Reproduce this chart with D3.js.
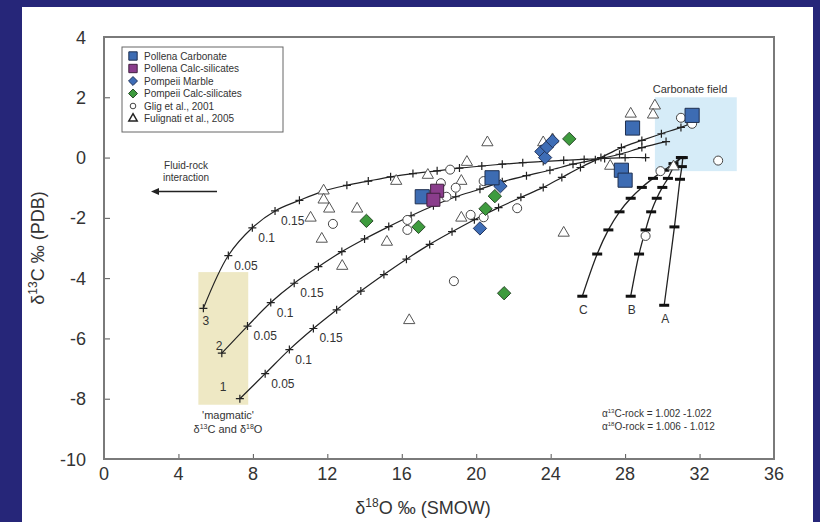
<!DOCTYPE html>
<html lang="en">
<head>
<meta charset="utf-8"/>
<script src="https://d3js.org/d3.v7.min.js"></script>
<style>
  body { margin: 0; background: #262679; }
  svg text { font-family: "Liberation Sans", Arial, sans-serif; }
  .small { font-family: "Liberation Sans Narrow", "Liberation Sans", Arial, sans-serif; fill: #333; }
</style>
</head>
<body>
<div id="chart"></div>
<script>
// axis ticks
var xTicks = [0, 4, 8, 12, 16, 20, 24, 28, 32, 36];
var yTicks = [4, 2, 0, -2, -4, -6, -8, -10];

// mixing curves 1-3 (d18O, d13C), tick marks at each vertex
var curve1 = [[7.3,-8.0],[8.66,-7.17],[9.96,-6.37],[11.25,-5.67],[12.5,-5.05],[13.8,-4.43],[15.04,-3.88],[16.25,-3.37],[17.5,-2.88],[18.7,-2.46],[19.9,-2.06],[21.2,-1.66],[22.4,-1.32],[23.6,-0.99],[24.6,-0.66],[25.6,-0.33],[26.7,0],[27.8,0.33],[28.9,0.57],[29.95,0.79],[31.0,1.0],[31.5,1.12]];
var curve2 = [[6.33,-6.49],[7.71,-5.59],[8.96,-4.81],[10.22,-4.17],[11.52,-3.62],[12.78,-3.12],[14.0,-2.7],[15.3,-2.29],[16.5,-1.93],[17.7,-1.6],[18.9,-1.3],[20.2,-1.05],[21.4,-0.8],[22.7,-0.6],[23.96,-0.42],[25.2,-0.22],[26.4,-0.07],[27.7,0.11],[28.9,0.33],[30.2,0.53]];
var curve3 = [[5.34,-5.0],[6.68,-3.25],[7.97,-2.33],[9.19,-1.77],[10.5,-1.42],[11.76,-1.12],[13.05,-0.92],[14.2,-0.78],[15.4,-0.64],[16.6,-0.53],[17.9,-0.44],[19.1,-0.35],[20.3,-0.28],[21.4,-0.22],[22.5,-0.17],[23.6,-0.13],[24.7,-0.09],[25.8,-0.06],[26.9,-0.03],[28.0,0],[29.1,0]];
var fracLabels = ["0.05", "0.1", "0.15"];

// curves A, B, C
var curveA = [[30.1,-4.9],[30.65,-2.3],[30.95,-0.72],[31.05,-0.3],[31.1,0]];
var curveB = [[28.3,-4.6],[28.75,-3.2],[29.1,-2.4],[29.4,-1.8],[29.7,-1.35],[30.0,-0.99],[30.3,-0.69],[30.6,-0.32],[31.0,0]];
var curveC = [[25.7,-4.6],[26.5,-3.2],[27.1,-2.4],[27.7,-1.8],[28.3,-1.35],[28.9,-0.99],[29.5,-0.69],[30.1,-0.42],[30.6,-0.2],[31.0,0]];

// samples
var pollenaCarb = [[17.1,-1.3],[20.85,-0.67],[28.4,0.98],[27.8,-0.42],[28.0,-0.75],[31.6,1.4]];
var pollenaCalc = [[17.9,-1.1],[17.7,-1.4]];
var pompeiiMarble = [[23.5,0.2],[23.7,0.0],[23.8,0.35],[24.1,0.55],[21.3,-0.95],[20.2,-2.35]];
var pompeiiCalc = [[25.0,0.62],[21.0,-1.28],[20.5,-1.7],[16.9,-2.3],[14.1,-2.1],[21.5,-4.5]];
var glig = [[18.6,-0.4],[18.1,-0.85],[18.9,-1.0],[18.4,-1.3],[20.4,-0.78],[22.2,-1.68],[16.3,-2.07],[16.3,-2.4],[19.7,-1.9],[20.4,-1.98],[18.8,-4.1],[12.3,-2.2],[31.0,1.32],[31.6,1.12],[33.0,-0.1],[29.9,-0.45],[29.1,-2.6]];
var fulignati = [[11.8,-1.1],[11.8,-1.4],[12.1,-1.7],[11.1,-2.0],[11.7,-2.7],[13.6,-1.7],[12.8,-3.6],[15.2,-2.8],[15.7,-0.78],[17.4,-0.58],[19.2,-0.78],[19.5,-0.15],[20.6,0.5],[19.2,-2.0],[16.4,-5.4],[23.6,0.5],[24.1,0.6],[24.7,-2.5],[27.2,-0.28],[28.3,1.45],[29.6,1.72],[29.5,1.42],[30.6,-0.3]];

var legendNames = ["Pollena Carbonate", "Pollena Calc-silicates", "Pompeii Marble", "Pompeii Calc-silicates", "Glig et al., 2001", "Fulignati et al., 2005"];

var svg = d3.select("#chart").append("svg")
    .attr("width", 820).attr("height", 522);

// white panel
svg.append("rect").attr("x", 22).attr("y", 7).attr("width", 791).attr("height", 515).attr("fill", "#fff");

var x = d3.scaleLinear().domain([0, 36]).range([104, 774]);
var y = d3.scaleLinear().domain([-10, 4]).range([459, 37]);

// shaded fields
svg.append("rect")
    .attr("x", x(29.6)).attr("y", y(2.0))
    .attr("width", x(34) - x(29.6)).attr("height", y(-0.45) - y(2.0))
    .attr("fill", "#d6ecf8");
svg.append("rect")
    .attr("x", x(5.07)).attr("y", y(-3.8))
    .attr("width", x(7.75) - x(5.07)).attr("height", y(-8.2) - y(-3.8))
    .attr("fill", "#eee8c4");

// axes (ticks inside)
svg.append("g").attr("transform", "translate(0," + y(-10) + ")")
    .call(d3.axisBottom(x).tickValues(xTicks).tickSize(-5).tickFormat(""))
    .call(function (g) { g.select(".domain").remove(); g.selectAll("line").attr("stroke", "#555"); });
svg.append("g").attr("transform", "translate(" + x(0) + ",0)")
    .call(d3.axisLeft(y).tickValues(yTicks).tickSize(-6).tickFormat(""))
    .call(function (g) { g.select(".domain").remove(); g.selectAll("line").attr("stroke", "#555"); });

svg.append("rect")
    .attr("x", x(0)).attr("y", y(4))
    .attr("width", x(36) - x(0)).attr("height", y(-10) - y(4))
    .attr("fill", "none").attr("stroke", "#7a7a7a").attr("stroke-width", 2);

svg.selectAll(".xl").data(xTicks).enter().append("text")
    .attr("x", function (d) { return x(d); }).attr("y", 480)
    .attr("text-anchor", "middle").attr("font-size", 18).attr("fill", "#333")
    .text(function (d) { return d; });
svg.selectAll(".yl").data(yTicks).enter().append("text")
    .attr("x", 86).attr("y", function (d) { return y(d) + 6.5; })
    .attr("text-anchor", "end").attr("font-size", 18).attr("fill", "#333")
    .text(function (d) { return d; });

// axis titles
var xt = svg.append("text").attr("x", 423).attr("y", 514)
    .attr("text-anchor", "middle").attr("font-size", 18).attr("fill", "#333");
xt.append("tspan").text("δ");
xt.append("tspan").attr("font-size", 12).attr("dy", -7).text("18");
xt.append("tspan").attr("dy", 7).text("O ‰ (SMOW)");

var yt = svg.append("text").attr("transform", "translate(44,248) rotate(-90)")
    .attr("text-anchor", "middle").attr("font-size", 18).attr("fill", "#333");
yt.append("tspan").text("δ");
yt.append("tspan").attr("font-size", 12).attr("dy", -7).text("13");
yt.append("tspan").attr("dy", 7).text("C ‰ (PDB)");

// mixing curves
var line = d3.line().x(function (d) { return x(d[0]); }).y(function (d) { return y(d[1]); })
    .curve(d3.curveCatmullRom);

[curve1, curve2, curve3].forEach(function (c) {
    svg.append("path").datum(c).attr("d", line)
        .attr("fill", "none").attr("stroke", "#222").attr("stroke-width", 1.2);
    svg.selectAll(null).data(c).enter().append("path")
        .attr("transform", function (d) { return "translate(" + x(d[0]) + "," + y(d[1]) + ")"; })
        .attr("d", "M-4,0H4M0,-4V4")
        .attr("stroke", "#222").attr("stroke-width", 1.2);
});

[curveA, curveB, curveC].forEach(function (c) {
    svg.append("path").datum(c).attr("d", line)
        .attr("fill", "none").attr("stroke", "#222").attr("stroke-width", 1.3);
    svg.selectAll(null).data(c).enter().append("path")
        .attr("transform", function (d) { return "translate(" + x(d[0]) + "," + y(d[1]) + ")"; })
        .attr("d", "M-5,0H5")
        .attr("stroke", "#111").attr("stroke-width", 3);
});

// fraction labels along curves 1-3 (offsets right of the 2nd-4th vertices)
[curve1, curve2, curve3].forEach(function (c) {
    fracLabels.forEach(function (t, i) {
        var p = c[i + 1];
        svg.append("text").attr("class", "small")
            .attr("x", x(p[0]) + 6).attr("y", y(p[1]) + 14)
            .attr("font-size", 12).text(t);
    });
});

// start-point numbers: [label, curve, dx, dy]
var curveNames = [["1", curve1, -20, -8], ["2", curve2, -6, -3], ["3", curve3, -1, 17]];
curveNames.forEach(function (n) {
    var p = n[1][0];
    svg.append("text").attr("class", "small")
        .attr("x", x(p[0]) + n[2]).attr("y", y(p[1]) + n[3])
        .attr("font-size", 12).text(n[0]);
});
[["A", curveA], ["B", curveB], ["C", curveC]].forEach(function (n) {
    var p = n[1][0];
    svg.append("text").attr("class", "small")
        .attr("x", x(p[0]) + 1).attr("y", y(p[1]) + 18)
        .attr("text-anchor", "middle").attr("font-size", 12).text(n[0]);
});

// sample points
function pts(data, sym, size, fill, stroke) {
    svg.selectAll(null).data(data).enter().append("path")
        .attr("transform", function (d) { return "translate(" + x(d[0]) + "," + y(d[1]) + ")"; })
        .attr("d", d3.symbol().type(sym).size(size))
        .attr("fill", fill).attr("stroke", stroke).attr("stroke-width", 1);
}
var diamond = { draw: function (ctx, s) { var r = Math.sqrt(s) / 1.5; ctx.moveTo(0, -r); ctx.lineTo(r, 0); ctx.lineTo(0, r); ctx.lineTo(-r, 0); ctx.closePath(); } };

pts(fulignati, d3.symbolTriangle, 55, "#fff", "#555");
pts(glig, d3.symbolCircle, 64, "#fff", "#444");
pts(pompeiiCalc, diamond, 100, "#3e9b3e", "#2a4a2a");
pts(pompeiiMarble, diamond, 100, "#3e6db6", "#22335a");
pts(pollenaCarb, d3.symbolSquare, 200, "#3d6cb3", "#1f3050");
pts(pollenaCalc, d3.symbolSquare, 170, "#8a3d8c", "#40203f");

// legend
svg.append("rect").attr("x", 122).attr("y", 47).attr("width", 161).attr("height", 85)
    .attr("fill", "#fff").attr("stroke", "#666").attr("stroke-width", 1);
var lgSyms = [
    [d3.symbolSquare, 70, "#3d6cb3", "#1f3050"],
    [d3.symbolSquare, 70, "#8a3d8c", "#40203f"],
    [diamond, 45, "#3e6db6", "#22335a"],
    [diamond, 45, "#3e9b3e", "#2a4a2a"],
    [d3.symbolCircle, 25, "#fff", "#444"],
    [d3.symbolTriangle, 30, "#fff", "#222"]
];
legendNames.forEach(function (name, i) {
    var ly = 56 + i * 12.5;
    var s = lgSyms[i];
    svg.append("path").attr("transform", "translate(133," + ly + ")")
        .attr("d", d3.symbol().type(s[0]).size(s[1]))
        .attr("fill", s[2]).attr("stroke", s[3]).attr("stroke-width", i === 5 ? 1.5 : 1);
    svg.append("text").attr("class", "small").attr("x", 144).attr("y", ly + 3.5)
        .attr("font-size", 10).text(name);
});

// annotations
svg.append("text").attr("class", "small").attr("x", 690).attr("y", 93)
    .attr("text-anchor", "middle").attr("font-size", 11).text("Carbonate field");

svg.append("text").attr("class", "small").attr("x", 186).attr("y", 169)
    .attr("text-anchor", "middle").attr("font-size", 10).text("Fluid-rock");
svg.append("text").attr("class", "small").attr("x", 186).attr("y", 181)
    .attr("text-anchor", "middle").attr("font-size", 10).text("interaction");
svg.append("line").attr("x1", 217).attr("y1", 191.5).attr("x2", 156).attr("y2", 191.5)
    .attr("stroke", "#222").attr("stroke-width", 1.3);
svg.append("path").attr("d", "M151,191.5L159,188L159,195Z").attr("fill", "#222");

svg.append("text").attr("class", "small").attr("x", 228).attr("y", 419)
    .attr("text-anchor", "middle").attr("font-size", 11).text("'magmatic'");
var mg = svg.append("text").attr("class", "small").attr("x", 228).attr("y", 433)
    .attr("text-anchor", "middle").attr("font-size", 11);
mg.append("tspan").text("δ");
mg.append("tspan").attr("font-size", 7).attr("dy", -4).text("13");
mg.append("tspan").attr("dy", 4).text("C and δ");
mg.append("tspan").attr("font-size", 7).attr("dy", -4).text("18");
mg.append("tspan").attr("dy", 4).text("O");

var al1 = svg.append("text").attr("class", "small").attr("x", 602).attr("y", 417).attr("font-size", 10);
al1.append("tspan").text("α");
al1.append("tspan").attr("font-size", 6).attr("dy", -4).text("13");
al1.append("tspan").attr("dy", 4).text("C-rock = 1.002 -1.022");
var al2 = svg.append("text").attr("class", "small").attr("x", 602).attr("y", 430).attr("font-size", 10);
al2.append("tspan").text("α");
al2.append("tspan").attr("font-size", 6).attr("dy", -4).text("18");
al2.append("tspan").attr("dy", 4).text("O-rock = 1.006 - 1.012");
</script>
</body>
</html>
